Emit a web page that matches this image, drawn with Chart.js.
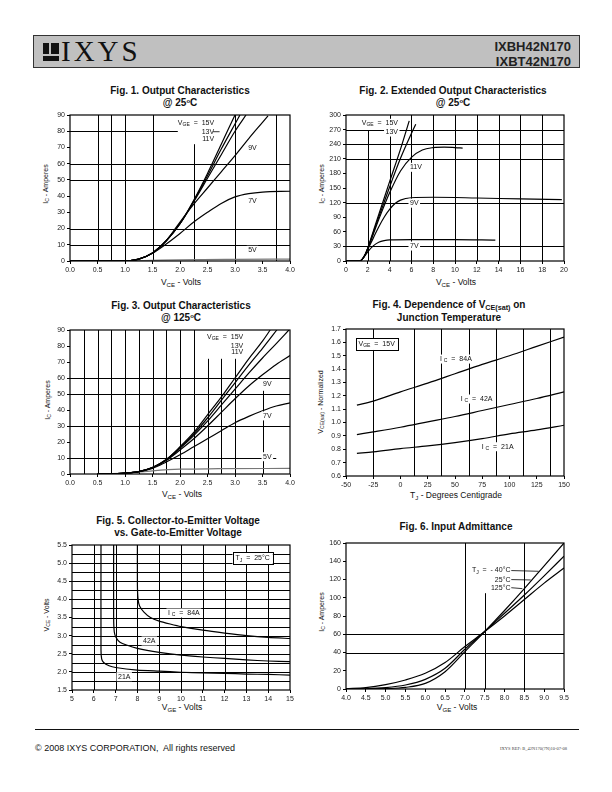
<!DOCTYPE html>
<html>
<head>
<meta charset="utf-8">
<script src="https://cdn.jsdelivr.net/npm/chart.js@4.4.0/dist/chart.umd.min.js"></script>
<style>
body{margin:0;width:612px;height:792px;position:relative;background:#fff;font-family:"Liberation Sans",Arial,sans-serif;color:#111;overflow:hidden}
.hdr{position:absolute;left:33px;top:35px;width:545px;height:31px;background:#c0c0c0;border:1px solid #333}
.icon{position:absolute;left:9px;top:7px;width:16px;height:18px;background:#111}
.icon i{position:absolute;background:#c0c0c0}
.brand{position:absolute;left:27px;top:-1px;font-family:"Liberation Serif","Times New Roman",serif;font-size:29px;letter-spacing:3px;color:#111}
.part{position:absolute;right:8px;top:3px;font-weight:bold;font-size:13px;line-height:15px;text-align:right;color:#222}
.ttl{position:absolute;width:260px;font-weight:bold;font-size:10px;line-height:11.5px;text-align:center}
.ttl sub,.ax sub{font-size:0.72em;vertical-align:baseline;position:relative;top:0.25em}
.ttl sup{font-size:0.6em;vertical-align:baseline;position:relative;top:-0.45em}
.ax{position:absolute;white-space:nowrap;font-size:8.5px;line-height:10px}
.ax.y{font-size:7px;transform:translate(-50%,-50%) rotate(-90deg)}
.ax.x{transform:translate(-50%,-50%)}
canvas{position:absolute}
.foot{position:absolute;left:35px;top:729px;width:544px;border-top:1px solid #111}
.copy{position:absolute;left:35px;top:743px;font-size:9px}
.ref{position:absolute;left:500px;top:746px;font-size:4.5px;font-family:"Liberation Serif",serif;color:#444}
</style>
</head>
<body>
<div class="hdr">
  <div class="icon"><i style="left:6px;top:0;width:1.5px;height:11px"></i><i style="left:0;top:11px;width:16px;height:1.5px"></i></div>
  <div class="brand">IXYS</div>
  <div class="part">IXBH42N170<br>IXBT42N170</div>
</div>

<div class="ttl" style="left:50px;top:85px">Fig. 1. Output Characteristics<br>@ 25<sup>o</sup>C</div>
<div class="ttl" style="left:323px;top:85px">Fig. 2. Extended Output Characteristics<br>@ 25<sup>o</sup>C</div>
<div class="ttl" style="left:51px;top:300px">Fig. 3. Output Characteristics<br>@ 125<sup>o</sup>C</div>
<div class="ttl" style="left:319px;top:299px">Fig. 4. Dependence of V<sub>CE(sat)</sub> on<br>Junction Temperature</div>
<div class="ttl" style="left:48px;top:515px">Fig. 5. Collector-to-Emitter Voltage<br>vs. Gate-to-Emitter Voltage</div>
<div class="ttl" style="left:326px;top:521px">Fig. 6. Input Admittance</div>

<div class="ax x" style="left:181px;top:282px">V<sub>CE</sub> - Volts</div>
<div class="ax y" style="left:46px;top:184px">I<sub>C</sub> - Amperes</div>
<div class="ax x" style="left:456px;top:282px">V<sub>CE</sub> - Volts</div>
<div class="ax y" style="left:322px;top:184px">I<sub>C</sub> - Amperes</div>
<div class="ax x" style="left:182px;top:494px">V<sub>CE</sub> - Volts</div>
<div class="ax y" style="left:48px;top:400px">I<sub>C</sub> - Amperes</div>
<div class="ax x" style="left:456px;top:495px">T<sub>J</sub> - Degrees Centigrade</div>
<div class="ax y" style="left:321px;top:402px">V<sub>CE(sat)</sub> - Normalized</div>
<div class="ax x" style="left:182px;top:707px">V<sub>GE</sub> - Volts</div>
<div class="ax y" style="left:47px;top:615px">V<sub>CE</sub> - Volts</div>
<div class="ax x" style="left:457px;top:707px">V<sub>GE</sub> - Volts</div>
<div class="ax y" style="left:322px;top:612px">I<sub>C</sub> - Amperes</div>

<canvas id="fig1"></canvas>
<canvas id="fig2"></canvas>
<canvas id="fig3"></canvas>
<canvas id="fig4"></canvas>
<canvas id="fig5"></canvas>
<canvas id="fig6"></canvas>

<div class="foot"></div>
<div class="copy">&copy; 2008 IXYS CORPORATION,&nbsp; All rights reserved</div>
<div class="ref">IXYS REF: B_42N170(7N)10-07-08</div>

<script>
// ---- Fig. 1: output characteristics @ 25C  [VCE, IC]
const f1_15V = [[0,0],[0.8,0],[1.1,0.3],[1.25,1.2],[1.5,5],[1.75,12.5],[2.0,23],[2.25,37.5],[2.5,54],[2.75,72],[3.0,90]];
const f1_13V = [[0,0],[0.8,0],[1.1,0.3],[1.25,1.2],[1.5,5],[1.75,12.5],[2.0,23],[2.25,37],[2.5,52.5],[2.75,69],[3.0,84.5],[3.09,90]];
const f1_11V = [[0,0],[0.8,0],[1.1,0.3],[1.25,1.2],[1.5,5],[1.75,12.5],[2.0,23],[2.25,36.5],[2.5,51],[2.75,65.5],[3.0,80],[3.2,90]];
const f1_9V  = [[0,0],[0.8,0],[1.1,0.3],[1.25,1.2],[1.5,5],[1.75,12.5],[2.0,24],[2.25,35],[2.5,45],[2.75,55],[3.0,65],[3.25,75.5],[3.5,85.5],[3.6,89.5]];
const f1_7V  = [[0,0],[0.8,0],[1.1,0.3],[1.25,1.2],[1.5,4.8],[1.75,10.5],[2.0,17],[2.25,24],[2.5,30],[2.75,35.5],[3.0,39.5],[3.25,41.5],[3.5,42.5],[4.0,43]];
const f1_5V  = [[0,0],[1.0,0.1],[1.5,0.4],[2.0,0.7],[3.0,1.0],[4.0,1.2]];

// ---- Fig. 2: extended output characteristics @ 25C
const f2_15V = [[0,0],[1.3,0],[1.5,4],[1.75,13],[2,27],[2.5,61],[3,95],[4,163],[5,230],[5.8,288]];
const f2_13V = [[0,0],[1.3,0],[1.5,4],[1.75,13],[2,26.5],[2.5,58],[3,90],[4,152],[5,211],[6,262],[6.4,281]];
const f2_11V = [[0,0],[1.3,0],[1.5,4],[1.75,13],[2,25.5],[2.5,55],[3,85],[4,140],[5,185],[6,213],[7,228],[8,233],[9,234],[10,233],[10.7,232]];
const f2_9V  = [[0,0],[1.3,0],[1.5,4],[1.75,12.5],[2,24],[2.5,47],[3,70],[3.5,90],[4,106],[4.5,118],[5,125],[6,130],[8,131],[12,129.5],[16,127.5],[19.8,126]];
const f2_7V  = [[0,0],[1.3,0],[1.5,4],[1.75,11],[2,19],[2.5,31],[3,38.5],[3.5,42],[4,43.5],[6,44],[10,44],[13.7,43]];

// ---- Fig. 3: output characteristics @ 125C
const f3_15V = [[0.5,0],[1.0,0.5],[1.25,1.5],[1.5,4],[1.75,9],[2.0,17],[2.25,26],[2.5,37],[2.75,48],[3.0,60],[3.25,72],[3.5,83],[3.64,90]];
const f3_13V = [[0.5,0],[1.0,0.5],[1.25,1.5],[1.5,4],[1.75,9],[2.0,16.5],[2.25,25],[2.5,35],[2.75,46],[3.0,57],[3.25,68],[3.5,78.5],[3.76,90]];
const f3_11V = [[0.5,0],[1.0,0.5],[1.25,1.5],[1.5,4],[1.75,8.8],[2.0,16],[2.25,24],[2.5,33],[2.75,43],[3.0,53],[3.25,63],[3.5,72.5],[3.75,81.5],[3.98,90]];
const f3_9V  = [[0.5,0],[1.0,0.5],[1.25,1.5],[1.5,4],[1.75,8.5],[2.0,15],[2.25,22],[2.5,30],[2.75,38.5],[3.0,47],[3.25,55],[3.5,62],[3.75,68.5],[4.0,74]];
const f3_7V  = [[0.5,0],[1.0,0.5],[1.25,1.5],[1.5,3.5],[1.75,7.5],[2.0,12],[2.25,17],[2.5,22],[2.75,27],[3.0,32],[3.25,36],[3.5,39.5],[3.75,42.5],[4.0,44.5]];
const f3_5V  = [[0.5,0],[1.0,0.5],[1.5,2],[2.0,3],[2.7,3.3],[4.0,3.5]];

// ---- Fig. 4: VCE(sat) normalized vs TJ
const f4_tj  = [-40,-25,0,25,50,75,100,125,150];
const f4_84A = [1.13,1.16,1.23,1.295,1.365,1.435,1.50,1.57,1.64];
const f4_42A = [0.91,0.93,0.965,1.005,1.045,1.09,1.135,1.18,1.23];
const f4_21A = [0.77,0.78,0.805,0.825,0.85,0.88,0.915,0.945,0.98];

// ---- Fig. 5: VCE vs VGE  [VGE, VCE]
const f5_84A = [[8.0,5.5],[8.0,4.4],[8.03,4.0],[8.1,3.82],[8.3,3.65],[8.6,3.5],[9,3.4],[9.5,3.32],[10,3.25],[11,3.15],[12,3.07],[13,3.0],[14,2.95],[15,2.92]];
const f5_42A = [[6.91,5.5],[6.91,3.5],[6.94,3.1],[7.02,2.95],[7.2,2.82],[7.5,2.74],[8,2.65],[9,2.54],[10,2.46],[11,2.41],[12,2.37],[13,2.33],[14,2.3],[15,2.28]];
const f5_21A = [[6.33,5.5],[6.33,2.6],[6.36,2.36],[6.45,2.26],[6.7,2.17],[7,2.12],[8,2.05],[9,2.02],[10,1.99],[11,1.97],[12,1.96],[13,1.94],[14,1.93],[15,1.91]];

// ---- Fig. 6: input admittance  IC vs VGE
const f6_vge  = [4.0,4.5,5.0,5.5,6.0,6.5,7.0,7.5,8.0,8.5,9.0,9.5];
const f6_m40  = [0,0,0.4,1.8,6.2,19,41,63,86,110,135,160];
const f6_25   = [0,0.3,1.5,4.4,10.6,22.7,43.6,63,83,103,124,145.5];
const f6_125  = [0.3,1.5,4.8,9.9,17.2,29,46.5,63,80,98,116,132.5];

Chart.defaults.font.family = '"Liberation Sans", Arial, sans-serif';
Chart.defaults.font.size = 7;
Chart.defaults.color = '#222';

const extras = {}; // grid lines + notes per canvas

function rich(ctx, str, size){
  const parts = str.split(/_\{([^}]*)\}/);
  const segs = [];
  let w = 0;
  parts.forEach((p, i) => {
    if (!p) return;
    const sub = i % 2 === 1;
    const fs = sub ? size * 0.72 : size;
    ctx.font = fs + 'px "Liberation Sans", Arial, sans-serif';
    const m = ctx.measureText(p).width;
    segs.push({p, sub, fs, m});
    w += m;
  });
  return {w, segs};
}

const sheetPlugin = {
  id: 'sheet',
  beforeDatasetsDraw(chart){
    const ex = extras[chart.canvas.id]; if (!ex) return;
    const {ctx, scales:{x, y}} = chart;
    ctx.save();
    ctx.strokeStyle = '#000'; ctx.lineWidth = 1;
    (ex.v || []).forEach(([v, a, b]) => {
      const px = Math.round(x.getPixelForValue(v)) + 0.5;
      ctx.beginPath(); ctx.moveTo(px, y.getPixelForValue(a)); ctx.lineTo(px, y.getPixelForValue(b)); ctx.stroke();
    });
    (ex.h || []).forEach(([v, a, b]) => {
      const py = Math.round(y.getPixelForValue(v)) + 0.5;
      ctx.beginPath(); ctx.moveTo(x.getPixelForValue(a), py); ctx.lineTo(x.getPixelForValue(b), py); ctx.stroke();
    });
    ctx.restore();
  },
  afterDatasetsDraw(chart){
    const ex = extras[chart.canvas.id] || {};
    const {ctx, chartArea:a, scales:{x, y}} = chart;
    ctx.save();
    (ex.notes || []).forEach(n => {
      const r = rich(ctx, n.t, 7);
      let px = x.getPixelForValue(n.x), py = y.getPixelForValue(n.y);
      if (n.align === 'right') px -= r.w;
      ctx.fillStyle = '#fff';
      if (n.box) {
        ctx.fillRect(px - 3, py - 6, r.w + 6, 12);
        ctx.strokeStyle = '#000'; ctx.lineWidth = 1;
        ctx.strokeRect(Math.round(px - 3) + 0.5, Math.round(py - 6) + 0.5, Math.round(r.w + 6), 12);
      } else {
        ctx.fillRect(px - 1.5, py - 4.5, r.w + 3, 9);
      }
      if (n.lead) {
        ctx.strokeStyle = '#000'; ctx.lineWidth = 0.8;
        ctx.beginPath();
        ctx.moveTo(x.getPixelForValue(n.lead[0]), y.getPixelForValue(n.lead[1]));
        ctx.lineTo(x.getPixelForValue(n.lead[2]), y.getPixelForValue(n.lead[3]));
        ctx.stroke();
      }
      ctx.fillStyle = '#111';
      ctx.textBaseline = 'middle';
      let cx = px;
      r.segs.forEach(s => {
        ctx.font = s.fs + 'px "Liberation Sans", Arial, sans-serif';
        ctx.fillText(s.p, cx, py + (s.sub ? 1.8 : 0));
        cx += s.m;
      });
    });
    ctx.strokeStyle = '#000'; ctx.lineWidth = 1.2;
    ctx.strokeRect(a.left, a.top, a.right - a.left, a.bottom - a.top);
    ctx.restore();
  }
};

function pts(arr){ return arr.map(([x, y]) => ({x, y})); }
function zip(xs, ys){ return xs.map((x, i) => ({x, y: ys[i]})); }

function curve(data, color, mode){
  return {
    data, borderColor: color || '#000', borderWidth: 1.2, pointRadius: 0,
    cubicInterpolationMode: mode === 'bez' ? 'default' : 'monotone',
    tension: mode === 'bez' ? 0.2 : 0.4, fill: false
  };
}

function makeChart(id, box, xs, ys, datasets, ex){
  extras[id] = ex;
  const cv = document.getElementById(id);
  const W = box.r - box.l + 40, H = box.b - box.t + 24;
  cv.width = W; cv.height = H;
  cv.style.left = (box.l - 26) + 'px';
  cv.style.top = (box.t - 8) + 'px';
  cv.style.width = W + 'px'; cv.style.height = H + 'px';
  const axis = (s, fit) => ({
    type: 'linear', min: s.min, max: s.max,
    ticks: {stepSize: s.step, autoSkip: false, maxRotation: 0, padding: 2,
            callback: v => s.fix != null ? Number(v).toFixed(s.fix) : String(Math.round(v * 100) / 100)},
    grid: {display: true, drawOnChartArea: false, tickLength: 3, color: '#000'},
    border: {display: false},
    afterFit: fit
  });
  return new Chart(cv, {
    type: 'line',
    data: {datasets},
    options: {
      responsive: false, animation: false, devicePixelRatio: 1,
      layout: {padding: {top: 8, right: 14, left: 0, bottom: 0}},
      plugins: {legend: {display: false}, tooltip: {enabled: false}},
      scales: {
        x: axis(xs, s => { s.height = 16; }),
        y: axis(ys, s => { s.width = 26; })
      }
    },
    plugins: [sheetPlugin]
  });
}

const full = (arr, a, b) => arr.map(v => [v, a, b]);

makeChart('fig1', {l:70, t:115, r:290, b:261},
  {min:0, max:4, step:0.5, fix:1}, {min:0, max:90, step:10},
  [curve(pts(f1_15V)), curve(pts(f1_13V)), curve(pts(f1_11V)), curve(pts(f1_9V)), curve(pts(f1_7V)), curve(pts(f1_5V), '#777')],
  {
    v: [...full([0.5, 0.75, 1, 1.5, 3, 3.75], 0, 90), [2.25, 0, 72]],
    h: [[80, 0, 1.96], ...full([60, 50, 20, 10], 0, 4)],
    notes: [
      {t:'V_{GE}  =  15V', x:2.62, y:85.3, align:'right'},
      {t:'13V', x:2.62, y:79.7, align:'right', lead:[2.6, 79.7, 2.72, 79.7]},
      {t:'11V', x:2.62, y:75.2, align:'right'},
      {t:'9V', x:3.24, y:69.7},
      {t:'7V', x:3.24, y:36.7},
      {t:'5V', x:3.24, y:6.6}
    ]
  });

makeChart('fig2', {l:346, t:115, r:564, b:261},
  {min:0, max:20, step:2}, {min:0, max:300, step:30},
  [curve(pts(f2_15V)), curve(pts(f2_13V)), curve(pts(f2_11V)), curve(pts(f2_9V)), curve(pts(f2_7V))],
  {
    v: [[2, 0, 268], ...full([4, 6, 8, 10, 12, 14, 16, 18], 0, 300)],
    h: [[270, 0, 20], ...full([240, 210, 120, 30], 0, 20)],
    notes: [
      {t:'V_{GE}  =  15V', x:4.77, y:283, align:'right'},
      {t:'13V', x:4.77, y:265, align:'right'},
      {t:'11V', x:5.87, y:192.5},
      {t:'9V', x:5.87, y:118.8},
      {t:'7V', x:5.87, y:30.7}
    ]
  });

makeChart('fig3', {l:70, t:330, r:290, b:474},
  {min:0, max:4, step:0.5, fix:1}, {min:0, max:90, step:10},
  [curve(pts(f3_15V)), curve(pts(f3_13V)), curve(pts(f3_11V)), curve(pts(f3_9V)), curve(pts(f3_7V)), curve(pts(f3_5V), '#777')],
  {
    v: [...full([0.25, 0.5, 0.75, 1, 1.25, 1.5, 1.75, 2, 2.25], 0, 90), ...full([2.5, 2.75, 3], 0, 72), [3.5, 0, 52]],
    h: [...full([60, 50, 30], 0, 4), [10, 0, 3.75]],
    notes: [
      {t:'V_{GE}  =  15V', x:3.15, y:85.5, align:'right'},
      {t:'13V', x:3.15, y:79.9, align:'right'},
      {t:'11V', x:3.15, y:76, align:'right'},
      {t:'9V', x:3.51, y:56},
      {t:'7V', x:3.51, y:36.3},
      {t:'5V', x:3.51, y:10.8}
    ]
  });

makeChart('fig4', {l:346, t:329, r:564, b:476},
  {min:-50, max:150, step:25}, {min:0.6, max:1.7, step:0.1, fix:1},
  [curve(zip(f4_tj, f4_84A)), curve(zip(f4_tj, f4_42A)), curve(zip(f4_tj, f4_21A))],
  {
    v: full([-25, 12.5, 37.5, 62.5, 87.5, 112.5, 137.5], 0.6, 1.7),
    h: [],
    notes: [
      {t:'V_{GE}  =  15V', x:-38.5, y:1.588, box:true},
      {t:'I _{C}  =  84A', x:36.2, y:1.475},
      {t:'I _{C}  =  42A', x:55.2, y:1.176},
      {t:'I _{C}  =  21A', x:74.5, y:0.819}
    ]
  });

makeChart('fig5', {l:72, t:545, r:290, b:690},
  {min:5, max:15, step:1}, {min:1.5, max:5.5, step:0.5, fix:1},
  [curve(pts(f5_84A), null, 'bez'), curve(pts(f5_42A), null, 'bez'), curve(pts(f5_21A), null, 'bez')],
  {
    v: full([6, 7, 8, 9, 10, 11, 12, 13, 14], 1.5, 5.5),
    h: full([5.25, 5.0, 4.75, 4.5, 4.25, 4.0, 3.75, 3.5, 3.25, 3.0, 2.75, 2.5, 2.25, 2.0, 1.75], 5, 15),
    notes: [
      {t:'T_{J}  =  25°C', x:12.5, y:5.128, box:true},
      {t:'I _{C}  =  84A', x:9.4, y:3.624},
      {t:'42A', x:8.26, y:2.852},
      {t:'21A', x:7.11, y:1.867}
    ]
  });

makeChart('fig6', {l:346, t:543, r:564, b:689},
  {min:4, max:9.5, step:0.5, fix:1}, {min:0, max:160, step:20},
  [curve(zip(f6_vge, f6_m40)), curve(zip(f6_vge, f6_25)), curve(zip(f6_vge, f6_125))],
  {
    v: [...full([7, 8.5], 0, 160), [7.5, 0, 105]],
    h: full([60, 40], 4, 9.5),
    notes: [
      {t:'T_{J}  =  - 40°C', x:8.15, y:129.8, align:'right', lead:[8.17, 129.8, 8.86, 129]},
      {t:'25°C', x:8.15, y:119.9, align:'right', lead:[8.17, 119.9, 8.66, 119.5]},
      {t:'125°C', x:8.15, y:111, align:'right', lead:[8.17, 111, 8.45, 110]}
    ]
  });
</script>
</body>
</html>
